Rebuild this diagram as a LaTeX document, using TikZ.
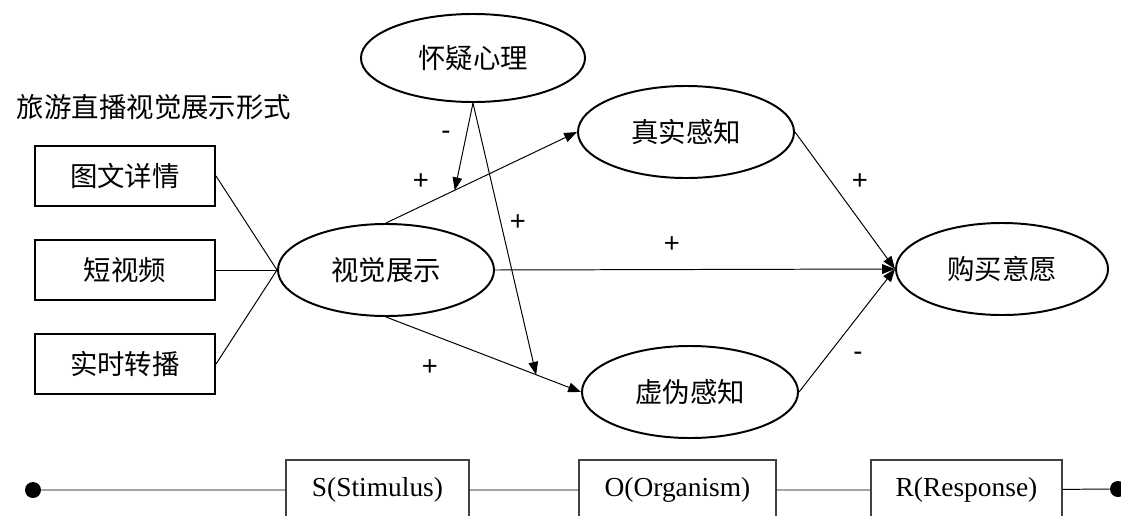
\documentclass[tikz,border=0pt]{standalone}
\usepackage{fontspec}
\setmainfont{Liberation Serif}
\newfontfamily\cjk{Noto Sans CJK SC}
\newfontfamily\signfont{Liberation Sans}
\usetikzlibrary{shapes.geometric,arrows.meta,positioning}

\tikzset{
    latent/.style={ellipse,draw,line width=1.4pt,minimum width=5.4cm,minimum height=2.3cm,
        inner sep=0pt,font=\cjk\fontsize{19.5}{22}\selectfont},
    formbox/.style={rectangle,draw,line width=1.4pt,minimum width=4.5cm,minimum height=1.5cm,
        inner sep=0pt,font=\cjk\fontsize{19.5}{22}\selectfont},
    srobox/.style={rectangle,draw=black!75,line width=0.8pt,minimum height=1.5cm,
        inner sep=0pt,font=\fontsize{19.5}{22}\selectfont},
    link/.style={line width=0.7pt,-{Triangle[length=3.2mm,width=2.4mm]}},
    plainlink/.style={line width=0.7pt},
    sign/.style={font=\signfont\fontsize{19.5}{22}\selectfont},
    dot/.style={circle,fill,inner sep=0pt,minimum size=0.4cm},
}

\begin{document}
\begin{tikzpicture}[x=0.025cm,y=-0.025cm]

\clip (0,0) rectangle (1121,515);

% === Model ===
\node[latent,minimum width=5.6cm,minimum height=2.2cm] (doubt) at (473,58) {怀疑心理};
\node[anchor=west,font=\cjk\fontsize{19.5}{22}\selectfont] (title) at (12,107) {旅游直播视觉展示形式};

% display forms
\node[formbox] (graphic) at (125,176) {图文详情};
\node[formbox] (video) at (125,270) {短视频};
\node[formbox] (live) at (125,364) {实时转播};

% latent variables
\node[latent] (visual) at (386,270) {视觉展示};
\node[latent] (real) at (686,132) {真实感知};
\node[latent] (fake) at (690,392) {虚伪感知};
\node[latent,minimum width=5.3cm] (buy) at (1002,269) {购买意愿};

% forms -> visual display
\draw[plainlink] (graphic.east) -- (visual.west);
\draw[plainlink] (video.east) -- (visual.west);
\draw[plainlink] (live.east) -- (visual.west);

% paths
\draw[link] (visual.north) -- coordinate[pos=0.36] (mreal) (real.west);
\draw[link] (visual.south) -- coordinate[pos=0.77] (mfake) (fake.west);
\draw[link] (visual.east) -- (buy.west);
\draw[link] (real.east) -- (buy.west);
\draw[link] (fake.east) -- (buy.west);

% moderation
\draw[link] (doubt.south) -- (mreal);
\draw[link] (doubt.south) -- (mfake);

% signs
\node[sign] (sgndoubtreal) at (446,135) {-};
\node[sign] (sgnreal) at (421,182) {+};
\node[sign] (sgndoubtfake) at (518,223) {+};
\node[sign] (sgnrealbuy) at (860,182) {+};
\node[sign] (sgnvisbuy) at (672,245) {+};
\node[sign] (sgnfake) at (430,368) {+};
\node[sign] (sgnfakebuy) at (858,356) {-};

% === S-O-R bar ===
\node[dot] (start) at (33,490) {};
\node[dot] (end) at (1118,489) {};
\node[srobox,minimum width=4.575cm] (S) at (377.5,490) {S(Stimulus)};
\node[srobox,minimum width=4.925cm] (O) at (677.5,490) {O(Organism)};
\node[srobox,minimum width=4.775cm] (R) at (966.5,490) {R(Response)};
\draw[plainlink] (start) -- (S) -- (O) -- (R) -- (end);

\end{tikzpicture}
\end{document}
